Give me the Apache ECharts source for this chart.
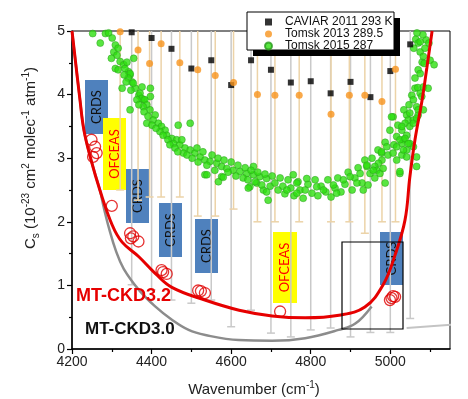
<!DOCTYPE html>
<html>
<head>
<meta charset="utf-8">
<style>html,body{margin:0;padding:0;background:#fff}#chart{width:468px;height:399px}</style>
<script src="https://cdn.jsdelivr.net/npm/echarts@6/dist/echarts.min.js"></script>
</head>
<body>
<div id="chart"></div>
<script>
// axis ticks
const majorX = [4200, 4400, 4600, 4800, 5000];
const minorX = [4300, 4500, 4700, 4900, 5100];

// MT-CKD3.2 (red) and MT-CKD3.0 (grey) model curves
const ckd32X = [4200, 4220, 4230, 4248, 4270, 4301, 4326, 4368, 4409, 4451, 4534, 4620, 4703, 4786, 4871, 4936, 4982, 5012, 5037, 5049, 5062, 5080, 5092, 5105];
const ckd32Y = [5.00, 3.92, 3.44, 2.97, 2.50, 1.95, 1.68, 1.45, 1.19, 0.97, 0.77, 0.61, 0.52, 0.49, 0.53, 0.66, 1.01, 1.48, 2.03, 2.70, 3.29, 3.92, 4.43, 5.00];
const ckd30X = [4200, 4220, 4230, 4248, 4270, 4280, 4293, 4310, 4330, 4368, 4409, 4451, 4493, 4535, 4619, 4703, 4786, 4870, 4912, 4953];
const ckd30Y = [5.00, 3.92, 3.44, 2.97, 2.50, 2.22, 1.90, 1.55, 1.26, 0.93, 0.67, 0.46, 0.30, 0.22, 0.14, 0.13, 0.17, 0.30, 0.40, 0.67];
const strayX = [5041, 5195];
const strayY = [0.33, 0.40];

// CAVIAR 2011 (squares + grey error bars)
const cavX = [4350, 4400, 4450, 4500, 4550, 4600, 4650, 4700, 4750, 4800, 4850, 4900, 4950, 5000, 5050];
const cavY = [4.98, 4.89, 4.72, 4.41, 4.54, 4.15, 4.54, 4.39, 4.19, 4.21, 4.02, 4.20, 3.96, 4.37, 4.79];
const cavLow = [1.01, 0.93, 0.77, 0.72, 0.77, 0.35, 0.61, 0.25, 0.19, 0.30, 0.33, 0.19, 0.26, 0.26, 0.48];

// Tomsk 2013 (orange + tan error bars)
const tomX = [4321, 4366, 4395, 4424, 4471, 4516, 4560, 4606, 4666, 4710, 4771, 4851, 4897, 4936, 4979, 5013];
const tomY = [4.99, 4.70, 4.49, 4.80, 4.50, 4.39, 4.30, 4.19, 4.00, 3.99, 3.99, 3.69, 3.99, 3.99, 3.89, 4.40];
const tomLow = [2.50, 2.34, 2.39, 2.39, 2.39, 2.09, 2.09, 2.20, 2.00, 2.00, 2.00, 2.00, 2.00, 1.82, 2.00, 2.00];

// CRDS / OFCEAS measurements (open red circles)
const circX = [4249, 4258, 4262, 4253, 4300, 4346, 4354, 4367, 4348, 4425, 4438, 4429, 4517, 4534, 4524, 4723, 5003, 5007, 4999, 5012];
const circY = [3.29, 3.18, 3.08, 3.02, 2.25, 1.82, 1.77, 1.69, 1.74, 1.24, 1.18, 1.21, 0.92, 0.88, 0.91, 0.59, 0.80, 0.83, 0.77, 0.82];

// Tomsk 2015 (green)
const green = [
  [4252,4.96],[4271,4.81],[4284,4.96],[4292,4.97],[4301,4.89],[4309,4.78],[4305,4.67],[4313,4.62],[4299,4.57],[4321,4.52],
  [4330,4.47],[4355,4.57],[4309,4.41],[4342,4.36],[4346,4.31],[4326,4.10],[4351,4.20],[4359,4.10],[4376,4.12],[4397,4.10],
  [4368,3.99],[4380,3.92],[4397,3.97],[4333,4.41],[4316,4.73],[4338,4.51],[4346,4.33],[4341,4.26],[4354,4.18],[4371,4.02],
  [4375,3.94],[4383,3.92],[4388,3.84],[4379,3.81],[4396,3.76],[4409,3.68],[4404,3.60],[4417,3.55],[4425,3.50],[4434,3.44],
  [4421,3.42],[4438,3.36],[4451,3.31],[4463,3.29],[4455,3.23],[4471,3.21],[4484,3.16],[4497,3.13],[4480,3.08],[4509,3.08],
  [4522,3.02],[4534,2.97],[4547,2.95],[4564,2.92],[4576,2.87],[4589,2.84],[4605,2.81],[4622,2.79],[4639,2.76],[4656,2.74],
  [4672,2.71],[4689,2.68],[4346,3.76],[4388,3.55],[4497,3.55],[4467,3.52],[4534,2.74],[4576,2.71],[4647,2.55],[4664,2.61],
  [4681,2.50],[4693,2.34],[4656,2.87],[4316,4.39],[4331,4.31],[4336,4.20],[4348,4.07],[4363,3.92],[4368,3.84],[4381,3.73],
  [4391,3.66],[4401,3.52],[4411,3.47],[4429,3.36],[4441,3.29],[4446,3.21],[4459,3.16],[4466,3.10],[4476,3.29],[4489,3.05],
  [4502,3.00],[4514,3.16],[4517,2.94],[4529,3.10],[4539,2.89],[4552,3.05],[4559,2.81],[4567,3.00],[4582,2.97],[4592,2.78],
  [4600,2.94],[4612,2.72],[4617,2.89],[4630,2.69],[4635,2.85],[4642,2.66],[4650,2.81],[4660,2.63],[4667,2.78],[4677,2.58],
  [4685,2.75],[4698,2.56],[4703,2.72],[4710,2.61],[4718,2.50],[4723,2.69],[4730,2.56],[4735,2.44],[4743,2.66],[4750,2.53],
  [4758,2.41],[4768,2.63],[4773,2.50],[4781,2.37],[4793,2.59],[4803,2.45],[4811,2.66],[4818,2.41],[4826,2.56],[4838,2.47],
  [4843,2.66],[4851,2.39],[4861,2.53],[4868,2.69],[4876,2.47],[4886,2.59],[4894,2.78],[4904,2.50],[4911,2.69],[4919,2.85],
  [4929,2.61],[4936,2.97],[4944,2.58],[4954,3.00],[4961,2.69],[4969,3.13],[4979,2.97],[4987,3.25],[4994,3.05],[4999,3.44],
  [5009,3.21],[5019,3.52],[5029,3.44],[5034,3.76],[5047,3.84],[5054,3.99],[5062,4.10],[5070,4.39],[5080,4.51],[5075,4.67],
  [5090,4.86],[5082,4.94],[5067,4.97],[5064,4.87],[5070,4.81],[5075,4.83],[5059,4.73],[5087,4.73],[5097,4.81],[5083,4.60],
  [5100,4.54],[5110,4.47],[5085,4.49],[5075,4.33],[5062,4.26],[5069,4.11],[5083,4.12],[5075,4.02],[5095,4.10],[5058,3.92],
  [5079,3.97],[5066,3.81],[5083,3.76],[5070,3.68],[5041,3.68],[5045,3.60],[5037,3.55],[5058,3.60],[5007,3.65],[5029,3.50],
  [5049,3.50],[5041,3.36],[5016,3.34],[5033,3.29],[5049,3.23],[5029,3.23],[5016,3.18],[5041,3.13],[5058,3.18],[5066,3.02],
  [5066,2.87],[5029,3.05],[5007,3.08],[4991,3.18],[4978,3.08],[4970,2.92],[4961,2.87],[4941,2.87],[4949,2.76],[4966,2.81],
  [5024,2.76],[4756,2.74],[4765,2.61],[4790,2.68],[4786,2.50],[4815,2.55],[4832,2.50],[4857,2.58],[4865,2.45],[4882,2.66],
  [4899,2.71],[4916,2.61],[4924,2.76],[4932,2.50],[4941,2.89],[4957,2.81],[4974,2.76],[4982,2.84],[4987,2.61],[4978,3.10],
  [5003,3.65],[5024,3.29],[5037,3.31],[5045,3.23],[5033,3.13],[5016,2.97],[5041,3.02],[5024,2.79],[5049,3.71],[5058,3.55],
  [5066,3.63],[5070,3.76],[4539,2.74],[4568,2.63],[4580,2.70],[4643,2.53],[4689,2.47],[4740,2.50],[4765,2.45]
];

const pairs = (xs, ys) => xs.map((x, i) => [x, ys[i]]);
const withErr = (xs, ys, lo) => xs.map((x, i) => [x, ys[i], lo[i]]);

function errorBars(color) {
  return function (params, api) {
    const x = api.value(0), y = api.value(1), lo = api.value(2);
    const p0 = api.coord([x, lo]);
    const p1 = api.coord([x, 2 * y - lo]);
    const st = { stroke: color, lineWidth: 1.5 };
    return {
      type: 'group',
      children: [
        { type: 'line', shape: { x1: p0[0], y1: p0[1], x2: p1[0], y2: p1[1] }, style: st },
        { type: 'line', shape: { x1: p0[0] - 4, y1: p0[1], x2: p0[0] + 4, y2: p0[1] }, style: st },
        { type: 'line', shape: { x1: p1[0] - 4, y1: p1[1], x2: p1[0] + 4, y2: p1[1] }, style: st },
      ],
    };
  };
}

// annotation boxes
const boxes = [
  { x: 85, y: 80, w: 23, h: 54, t: 'CRDS' },
  { x: 103, y: 118, w: 23, h: 72, t: 'OFCEAS' },
  { x: 126, y: 169, w: 23, h: 54, t: 'CRDS' },
  { x: 159, y: 203, w: 23, h: 54, t: 'CRDS' },
  { x: 195, y: 219, w: 23, h: 54, t: 'CRDS' },
  { x: 273, y: 232, w: 24, h: 71, t: 'OFCEAS' },
  { x: 380, y: 232, w: 23, h: 53, t: 'CRDS' },
];
const boxGraphics = boxes.map(b => ({
  type: 'group',
  z: 100,
  children: [
    { type: 'rect', shape: { x: b.x, y: b.y, width: b.w, height: b.h },
      style: { fill: b.t === 'CRDS' ? '#4f81bd' : '#ffff00' } },
    { type: 'text', x: b.x + b.w / 2, y: b.y + b.h / 2, rotation: Math.PI / 2,
      style: { text: b.t, font: '13px Lato', fill: b.t === 'CRDS' ? '#111' : '#ff0000',
        align: 'center', verticalAlign: 'middle' } },
  ],
}));

const supRich = {
  n: { fontSize: 15, fontFamily: 'Liberation Sans', fill: '#222', lineHeight: 20 },
  sp: { fontSize: 10, fontFamily: 'Liberation Sans', fill: '#222', lineHeight: 11, verticalAlign: 'top' },
  sb: { fontSize: 10, fontFamily: 'Liberation Sans', fill: '#222', lineHeight: 11, verticalAlign: 'bottom' },
};

let myChart = echarts.init(document.getElementById('chart'));
let option = {
  animation: false,
  grid: { left: 72, top: 31, right: 18, bottom: 50, show: true, borderColor: '#000', borderWidth: 1 },
  legend: {
    left: 264, top: 16, orient: 'vertical', z: 20,
    padding: 0, itemGap: 0, itemWidth: 7, itemHeight: 7,
    textStyle: { fontFamily: 'Liberation Sans', fontSize: 12, color: '#111', lineHeight: 12, padding: [0, 0, 0, 8] },
    data: [
      { name: 'CAVIAR 2011 293 K', icon: 'rect' },
      { name: 'Tomsk 2013 289.5', icon: 'circle' },
      { name: 'Tomsk 2015 287', icon: 'circle' },
    ],
  },
  xAxis: [
    {
      type: 'value', min: 4200, max: 5150,
      axisLine: { lineStyle: { color: '#000', width: 1.5 } },
      axisTick: { length: 5, lineStyle: { color: '#000', width: 1.2 }, customValues: majorX },
      axisLabel: { fontFamily: 'Liberation Sans', fontSize: 14, color: '#222', margin: 6,
        customValues: majorX, formatter: v => String(v) },
      splitLine: { show: false },
    },
    {
      type: 'value', min: 4200, max: 5150, position: 'bottom',
      axisLine: { show: false },
      axisTick: { length: 3, lineStyle: { color: '#000', width: 1.2 }, customValues: minorX },
      axisLabel: { show: false },
      splitLine: { show: false },
    },
  ],
  yAxis: {
    type: 'value', min: 0, max: 5, interval: 1,
    axisLine: { show: true, lineStyle: { color: '#000', width: 1.5 } },
    axisTick: { show: true, length: 5, lineStyle: { color: '#000', width: 1.2 } },
    minorTick: { show: true, splitNumber: 2, length: 3, lineStyle: { color: '#000', width: 1.2 } },
    axisLabel: { fontFamily: 'Liberation Sans', fontSize: 14, color: '#222', margin: 7 },
    splitLine: { show: false },
  },
  series: [
    {
      name: 'cav-err', type: 'custom', clip: true, z: 1,
      renderItem: errorBars('#c9c9c9'),
      encode: { x: 0, y: 1 },
      data: withErr(cavX, cavY, cavLow),
    },
    {
      name: 'tom-err', type: 'custom', clip: true, z: 1,
      renderItem: errorBars('#ecd3a8'),
      encode: { x: 0, y: 1 },
      data: withErr(tomX, tomY, tomLow),
    },
    {
      name: 'MT-CKD3.0', type: 'line', smooth: 0.4, symbol: 'none', z: 3,
      lineStyle: { color: '#8c8c8c', width: 2.5 },
      data: pairs(ckd30X, ckd30Y),
    },
    {
      name: 'stray', type: 'line', symbol: 'none', clip: false, z: 3,
      lineStyle: { color: '#c4c4c4', width: 2 },
      data: pairs(strayX, strayY),
    },
    {
      name: 'Tomsk 2015 287', type: 'scatter', symbolSize: 7, z: 4,
      itemStyle: { color: '#2ee010', borderColor: '#2a9a1e', borderWidth: 0.6 },
      data: green,
    },
    {
      name: 'MT-CKD3.2', type: 'line', smooth: 0.4, symbol: 'none', z: 5,
      lineStyle: { color: '#e60000', width: 3 },
      data: pairs(ckd32X, ckd32Y),
    },
    {
      name: 'CAVIAR 2011 293 K', type: 'scatter', symbol: 'rect', symbolSize: 6, z: 6,
      itemStyle: { color: '#000' },
      data: pairs(cavX, cavY),
    },
    {
      name: 'Tomsk 2013 289.5', type: 'scatter', symbolSize: 7, z: 6,
      itemStyle: { color: '#f7941d' },
      data: pairs(tomX, tomY),
    },
    {
      name: 'lab', type: 'scatter', symbolSize: 11, z: 7,
      itemStyle: { color: 'rgba(255,255,255,0)', borderColor: '#e00000', borderWidth: 1.3 },
      data: pairs(circX, circY),
    },
  ],
  graphic: [
    ...boxGraphics,
    { type: 'rect', z: 10, shape: { x: 342, y: 242, width: 61, height: 87 },
      style: { fill: 'none', stroke: '#000', lineWidth: 1.2 } },
    { type: 'rect', z: 10, shape: { x: 253, y: 18, width: 147, height: 38 }, style: { fill: '#000' } },
    { type: 'rect', z: 11, shape: { x: 247, y: 12, width: 147, height: 38 },
      style: { fill: '#fff', stroke: '#000', lineWidth: 1 } },
    { type: 'text', z: 100, x: 76, y: 296,
      style: { text: 'MT-CKD3.2', font: 'bold 18px "Liberation Sans"', fill: '#e60000', verticalAlign: 'middle' } },
    { type: 'text', z: 100, x: 85, y: 329,
      style: { text: 'MT-CKD3.0', font: 'bold 17px "Liberation Sans"', fill: '#111', verticalAlign: 'middle' } },
    { type: 'text', z: 100, x: 31, y: 158, rotation: Math.PI / 2,
      style: { text: '{n|C}{sb|s}{n| (10}{sp|-23}{n| cm}{sp|2}{n| molec}{sp|-1}{n| atm}{sp|-1}{n|)}',
        rich: supRich, align: 'center', verticalAlign: 'middle' } },
    { type: 'text', z: 100, x: 254, y: 390,
      style: { text: '{n|Wavenumber (cm}{sp|-1}{n|)}', rich: supRich, align: 'center', verticalAlign: 'middle' } },
  ],
};
myChart.setOption(option);
</script>
</body>
</html>
